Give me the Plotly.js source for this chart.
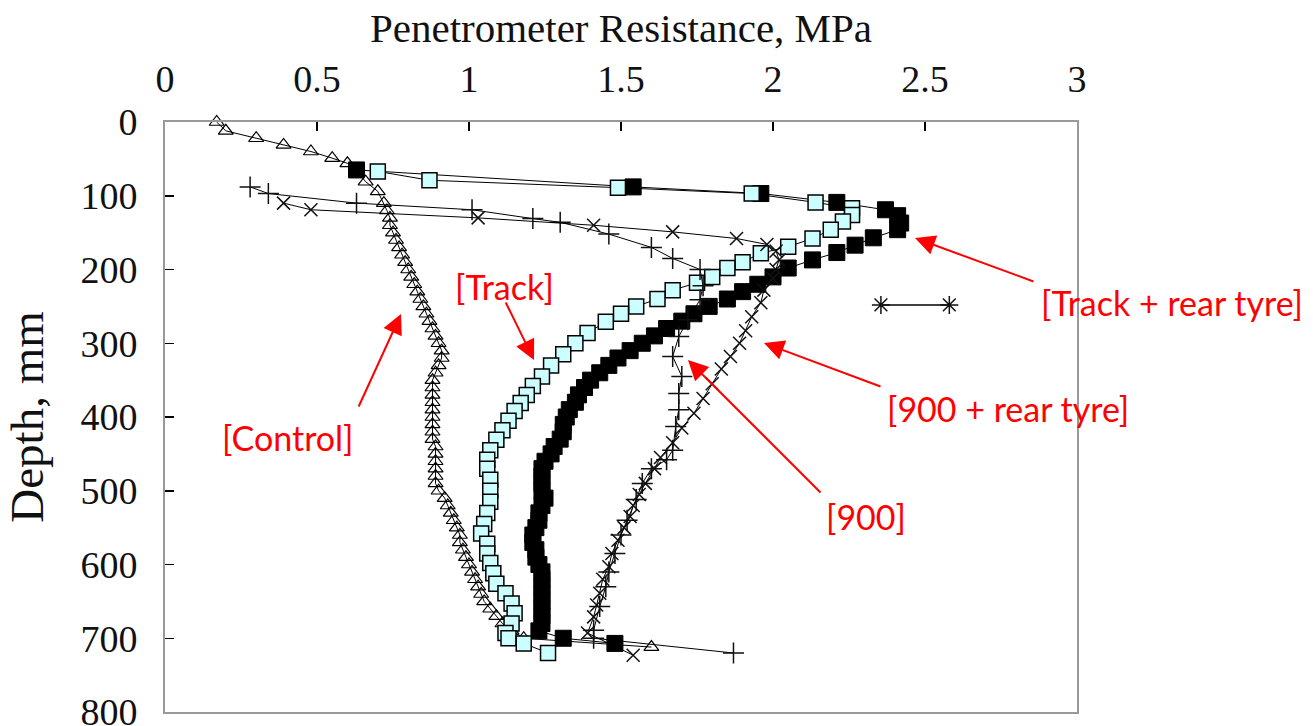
<!DOCTYPE html>
<html><head><meta charset="utf-8">
<script src="https://cdn.plot.ly/plotly-3.0.1.min.js"></script>
<style>html,body{margin:0;padding:0;background:#fff}#chart{width:1313px;height:726px}</style>
</head><body><div id="chart"></div>
<script>
// ---- data (Penetrometer resistance in MPa vs depth in mm) ----
const controlDepth = [0,12,22,31,40,49,56,66,81,94,110,120,130,140,150,160,170,180,190,200,210,220,230,240,250,260,270,280,290,300,310,320,330,340,350,360,370,380,390,400,410,420,430,440,450,460,470,480,490,500,510,520,530,540,550,560,570,580,590,600,610,620,630,640,650,660,670,680,690,700,712];
const controlMPa   = [0.17,0.20,0.30,0.39,0.48,0.55,0.60,0.63,0.66,0.70,0.72,0.73,0.74,0.74,0.75,0.76,0.77,0.78,0.79,0.80,0.81,0.82,0.83,0.84,0.85,0.86,0.87,0.88,0.89,0.90,0.91,0.91,0.90,0.89,0.88,0.88,0.88,0.88,0.88,0.88,0.88,0.88,0.88,0.89,0.89,0.89,0.89,0.89,0.89,0.90,0.92,0.93,0.94,0.95,0.96,0.97,0.97,0.98,0.99,1.00,1.01,1.02,1.03,1.04,1.05,1.07,1.09,1.11,1.14,1.18,1.60];

const trackRearDepth = [65,88,97,109,119,127,137,146,157,167,177,187,198,210,220,230,240,250,260,270,280,290,300,310,320,330,340,350,360,370,380,390,400,410,420,430,440,450,460,470,480,490,500,510,520,530,540,550,560,570,580,590,600,610,620,630,640,650,660,670,680,690,700,707];
const trackRearMPa   = [0.63,1.54,1.96,2.21,2.37,2.41,2.42,2.41,2.33,2.27,2.21,2.13,2.05,2.00,1.95,1.90,1.85,1.79,1.74,1.70,1.65,1.61,1.57,1.53,1.49,1.46,1.43,1.40,1.38,1.36,1.35,1.33,1.32,1.31,1.31,1.30,1.28,1.27,1.25,1.24,1.24,1.24,1.24,1.25,1.24,1.23,1.23,1.22,1.21,1.21,1.22,1.22,1.23,1.24,1.24,1.24,1.24,1.24,1.24,1.24,1.24,1.23,1.31,1.48];

const trackDepth = [67,79,89,97,109,117,126,135,146,158,169,178,190,198,210,218,228,240,250,260,271,286,300,315,330,345,358,370,381,392,405,418,431,445,458,470,485,500,515,530,545,558,572,585,598,612,626,639,653,666,680,693,700,707,720];
const trackMPa   = [0.70,0.87,1.49,1.93,2.14,2.26,2.26,2.23,2.19,2.13,2.05,1.96,1.90,1.85,1.80,1.75,1.67,1.62,1.55,1.50,1.45,1.39,1.35,1.31,1.27,1.24,1.21,1.19,1.17,1.15,1.13,1.11,1.09,1.07,1.06,1.06,1.07,1.07,1.07,1.06,1.05,1.04,1.06,1.06,1.07,1.08,1.09,1.12,1.14,1.15,1.14,1.12,1.13,1.18,1.26];

const w900Depth = [88,97,110,119,131,136,152,170,185,200,222,241,268,291,318,345,368,390,413,445,458,470,490,512,540,560,585,610,630,657,689,700,720];
const w900MPa   = [0.28,0.34,0.63,1.01,1.21,1.30,1.46,1.60,1.67,1.76,1.77,1.76,1.72,1.69,1.67,1.70,1.69,1.69,1.68,1.67,1.65,1.60,1.57,1.55,1.52,1.50,1.48,1.46,1.45,1.43,1.41,1.41,1.87];

const w900RearDepth = [110,119,130,140,149,158,166,175,187,200,212,228,245,264,283,300,318,335,355,375,395,415,435,455,470,490,505,520,535,550,567,585,603,620,639,655,671,693,723];
const w900RearMPa   = [0.39,0.48,1.03,1.41,1.67,1.88,1.98,2.01,2.02,2.01,2.00,1.97,1.96,1.93,1.91,1.89,1.86,1.83,1.80,1.77,1.74,1.70,1.67,1.63,1.61,1.58,1.56,1.54,1.53,1.51,1.49,1.47,1.46,1.44,1.43,1.42,1.41,1.39,1.54];

const lsdMPa = [2.355, 2.58];
const lsdDepth = [248, 248];

const xTicks = [0, 0.5, 1, 1.5, 2, 2.5, 3];
const yTicks = [0, 100, 200, 300, 400, 500, 600, 700, 800];

// ---- layout helpers (pixel -> paper) ----
const L = 165, R = 1077, T = 122, B = 712;
const px = x => (x - L) / (R - L);
const py = y => 1 - (y - T) / (B - T);

const lineStyle = {color: '#000', width: 1};
const traces = [
  {x: controlMPa, y: controlDepth, name: 'Control', mode: 'lines+markers', line: lineStyle,
   marker: {symbol: 'triangle-up-open', size: 13, color: '#000', line: {width: 1.2}}, cliponaxis: false},
  {x: trackRearMPa, y: trackRearDepth, name: 'Track + rear tyre', mode: 'lines+markers', line: lineStyle,
   marker: {symbol: 'square', size: 16, color: '#000', line: {color: '#000', width: 1}}, cliponaxis: false},
  {x: trackMPa, y: trackDepth, name: 'Track', mode: 'lines+markers', line: lineStyle,
   marker: {symbol: 'square', size: 15, color: '#ccffff', line: {color: '#000', width: 1.5}}, cliponaxis: false},
  {x: w900MPa, y: w900Depth, name: '900', mode: 'lines+markers', line: lineStyle,
   marker: {symbol: 'cross-thin-open', size: 15, color: '#111', line: {width: 1.5}}, cliponaxis: false},
  {x: w900RearMPa, y: w900RearDepth, name: '900 + rear tyre', mode: 'lines+markers', line: lineStyle,
   marker: {symbol: 'x-thin-open', size: 13, color: '#111', line: {width: 1.5}}, cliponaxis: false},
  {x: lsdMPa, y: lsdDepth, name: 'LSD', mode: 'lines+markers', line: {color: '#000', width: 1.5},
   marker: {symbol: 'asterisk-open', size: 15, color: '#111', line: {width: 1.5}}, cliponaxis: false}
];

const red = '#ff0000';
const labelFont = {family: 'Lato, "Open Sans", sans-serif', size: 34, color: red};
function label(text, cx, cy) {
  return {text: text, x: px(cx), y: py(cy), xref: 'paper', yref: 'paper', showarrow: false,
          xanchor: 'center', yanchor: 'middle', font: labelFont};
}
function arrow(tailX, tailY, tipX, tipY) {
  return {text: '', x: px(tipX), y: py(tipY), xref: 'paper', yref: 'paper', showarrow: true,
          ax: tailX - tipX, ay: tailY - tipY, axref: 'pixel', ayref: 'pixel',
          arrowhead: 2, arrowsize: 2.0, arrowwidth: 2, arrowcolor: red, standoff: 0, startstandoff: 0};
}

const serif = '"Liberation Serif", "Times New Roman", serif';
const layout = {
  width: 1313, height: 726,
  margin: {l: L, r: 1313 - R, t: T, b: 726 - B, autoexpand: false},
  paper_bgcolor: '#fff', plot_bgcolor: '#fff',
  showlegend: false,
  xaxis: {
    side: 'top', range: [0, 3], tickvals: xTicks, ticktext: xTicks.map(String),
    ticks: 'inside', ticklen: 9, tickwidth: 1.5, tickcolor: '#000',
    showline: true, mirror: true, linecolor: '#999', linewidth: 2,
    showgrid: false, zeroline: false, automargin: true,
    tickfont: {family: serif, size: 38, color: '#111'},
    ticklabelstandoff: 13, ticklabeloverflow: 'allow',
    title: {text: 'Penetrometer Resistance, MPa', standoff: 2,
            font: {family: serif, size: 41, color: '#111'}}
  },
  yaxis: {
    range: [800, 0], tickvals: yTicks, ticktext: yTicks.map(String),
    ticks: 'inside', ticklen: 9, tickwidth: 1.5, tickcolor: '#000',
    showline: true, mirror: true, linecolor: '#999', linewidth: 2,
    showgrid: false, zeroline: false, automargin: true,
    tickfont: {family: serif, size: 38, color: '#111'},
    ticklabelstandoff: 18, ticklabeloverflow: 'allow',
    title: {text: 'Depth, mm', standoff: 22, font: {family: serif, size: 47, color: '#111'}}
  },
  annotations: [
    label('[Track + rear tyre]', 1172, 302), arrow(1035, 282, 915, 238),
    label('[Track]', 504, 287), arrow(505, 301, 534, 360),
    label('[Control]', 288, 437), arrow(358, 408, 401, 314),
    label('[900 + rear tyre]', 1008, 408), arrow(882, 387, 764, 343),
    label('[900]', 866, 516), arrow(822, 494, 688, 360)
  ]
};

Plotly.newPlot('chart', traces, layout, {displayModeBar: false, staticPlot: true});
</script>
</body></html>
